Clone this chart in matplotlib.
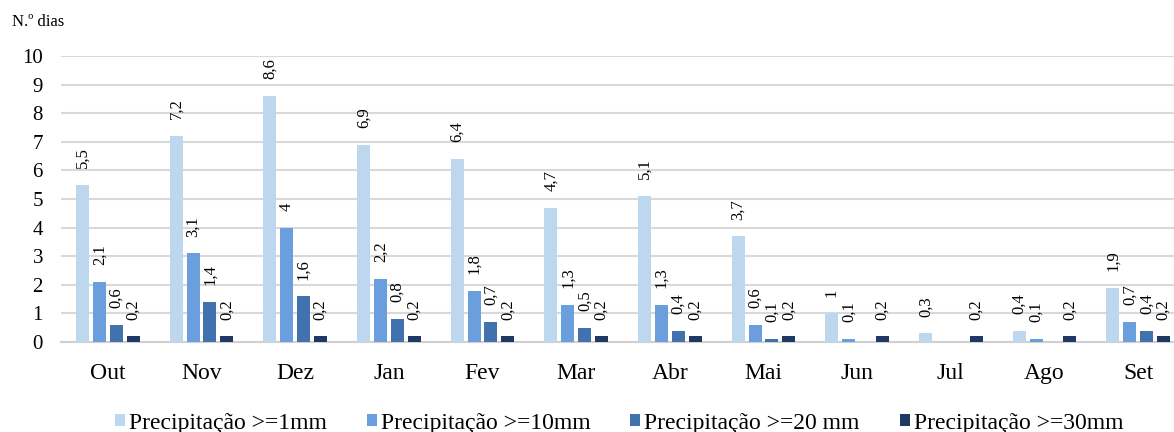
import numpy as np
import matplotlib
matplotlib.use("Agg")
from matplotlib import pyplot as plt

plt.rcParams['font.family'] = ['Liberation Serif', 'DejaVu Serif']

meses = ['Out', 'Nov', 'Dez', 'Jan', 'Fev', 'Mar', 'Abr', 'Mai', 'Jun', 'Jul', 'Ago', 'Set']
series = ['Precipitação >=1mm', 'Precipitação >=10mm', 'Precipitação >=20 mm', 'Precipitação >=30mm']
p1 = [5.5, 7.2, 8.6, 6.9, 6.4, 4.7, 5.1, 3.7, 1, 0.3, 0.4, 1.9]
p10 = [2.1, 3.1, 4, 2.2, 1.8, 1.3, 1.3, 0.6, 0.1, 0, 0.1, 0.7]
p20 = [0.6, 1.4, 1.6, 0.8, 0.7, 0.5, 0.4, 0.1, 0, 0, 0, 0.4]
p30 = [0.2, 0.2, 0.2, 0.2, 0.2, 0.2, 0.2, 0.2, 0.2, 0.2, 0.2, 0.2]
cores = ['#BDD7EE', '#6A9EDC', '#4272AE', '#1F3864']

fig = plt.figure(figsize=(11.74, 4.32), dpi=100)
ax = fig.add_axes([61/1174, 90/432, 1 - 61/1174, 286/432])

x = np.arange(len(meses))
step = 0.18
w = 0.14
for k, vals in enumerate([p1, p10, p20, p30]):
    pos = x + (k - 1.5) * step
    ax.bar(pos, vals, width=w, color=cores[k], label=series[k], zorder=3)
    for xi, v in zip(pos, vals):
        if v > 0:
            txt = ('%g' % v).replace('.', ',')
            ax.annotate(txt, (xi, v), xytext=(0, 12), textcoords='offset points',
                        rotation=90, ha='center', va='bottom', fontsize=12)

ax.set_xlim(-0.5, 11.5 - 11/93.6)
ax.set_ylim(0, 10)
ax.set_yticks(range(0, 11))
ax.yaxis.grid(True, color='#D9D9D9', linewidth=1.5, zorder=0)
for s in ['top', 'right', 'left']:
    ax.spines[s].set_visible(False)
ax.spines['bottom'].set_color('#D0D0D0')
ax.spines['bottom'].set_linewidth(1.5)
ax.tick_params(axis='both', length=0)
ax.tick_params(axis='y', pad=13, labelsize=15)
ax.set_xticks(x)
ax.set_xticklabels(meses)
ax.tick_params(axis='x', pad=15, labelsize=17)

fig.text(12/1174, 1 - 22/432, 'N.º dias', fontsize=12, va='center')
fig.legend(loc='center', bbox_to_anchor=(619/1174, 1 - 423/432), ncol=4, frameon=False,
           fontsize=17, handlelength=0.42, handleheight=0.42, handletextpad=0.17,
           columnspacing=1.7, borderaxespad=0, borderpad=0)

fig.savefig('out.png', dpi=100)
